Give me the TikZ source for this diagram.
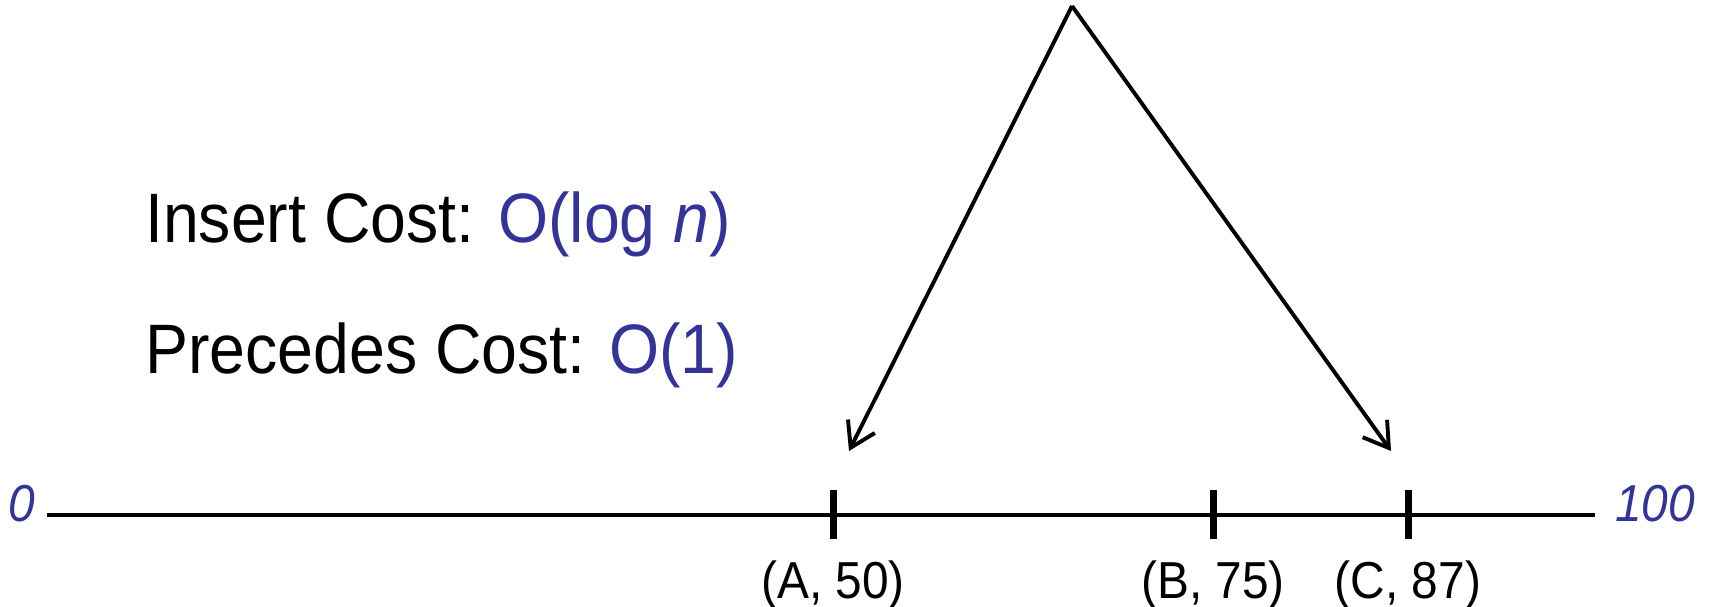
\documentclass[tikz,border=0pt]{standalone}
\usepackage{fontspec}
\setmainfont[FakeStretch=0.92]{Liberation Sans}
\usetikzlibrary{arrows.meta}
\definecolor{oblue}{RGB}{51,51,153}
\tikzset{
  axisline/.style={line width=4.3pt},
  tickmark/.style={line width=7pt},
  pointer/.style={line width=3.9pt,-{Straight Barb[length=24pt,width=30pt,line width=3.9pt]}},
  costtext/.style={anchor=base west,inner sep=0pt,font=\fontsize{70}{84}\selectfont},
  ticklabel/.style={anchor=base,inner sep=0pt,font=\fontsize{52}{62}\selectfont},
  endlabel/.style={anchor=base,inner sep=0pt,text=oblue,font=\fontsize{52}{62}\selectfont\itshape}
}
\begin{document}
\begin{tikzpicture}[x=1pt,y=-1pt]
\useasboundingbox (0,0) rectangle (1711,607);
% axis
\coordinate (L) at (47,515);
\coordinate (R) at (1595,515);
\draw[axisline] (L) -- (R);
\node[endlabel] (zero) at (22,521) {0};
\node[endlabel] (hundred) at (1655,521) {100};
% ticks
\coordinate (A) at (833,515);
\coordinate (B) at (1213,515);
\coordinate (C) at (1408,515);
\foreach \p in {A,B,C}{
  \draw[tickmark] ([yshift=-24pt]\p) -- ([yshift=25pt]\p);
}
\node[ticklabel] (la) at (833,598) {(A, 50)};
\node[ticklabel] (lb) at (1213,598) {(B, 75)};
\node[ticklabel] (lc) at (1408,598) {(C, 87)};
% arrows
\coordinate (apex) at (1072,6);
\coordinate (tipA) at (849,451);
\coordinate (tipC) at (1391,451);
\draw[pointer] (apex) -- (tipA);
\draw[pointer] (apex) -- (tipC);
% cost text
\node[costtext] (ins) at (145,242) {Insert Cost: \textcolor{oblue}{O(log \textit{n})}};
\node[costtext] (pre) at (145,373) {Precedes Cost: \textcolor{oblue}{O(1)}};
\end{tikzpicture}
\end{document}
